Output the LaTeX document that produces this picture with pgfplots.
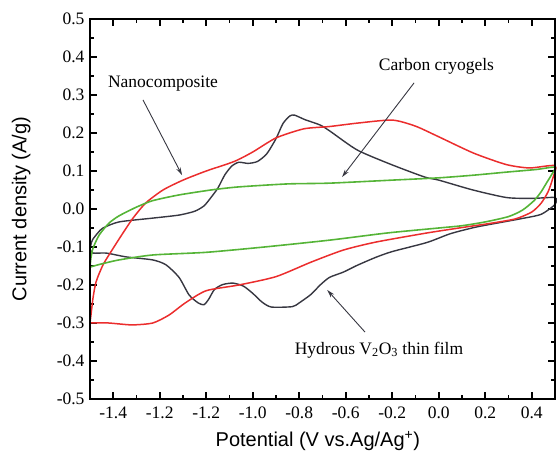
\documentclass[border=0pt]{standalone}
\usepackage{fontspec}
\setmainfont{Liberation Serif}
\newfontfamily\arialfont{Liberation Sans}
\usepackage{pgfplots}
\pgfplotsset{compat=1.18}
\usetikzlibrary{arrows.meta}
\definecolor{cvred}{RGB}{235,45,45}
\definecolor{cvgreen}{RGB}{85,180,55}
\definecolor{cvblack}{RGB}{55,55,65}
\begin{document}
\begin{tikzpicture}
\begin{axis}[
  scale only axis, width=465pt, height=380pt,
  xmin=-1.5, xmax=0.5, ymin=-0.5, ymax=0.5,
  axis line style={line width=2.2pt, black},
  xtick={-1.4,-1.2,-1.0,-0.8,-0.6,-0.4,-0.2,0.0,0.2,0.4},
  xticklabels={-1.4,-1.2,-1.2,-1.0,-0.8,-0.6,-0.2,0.0,0.2,0.4},
  minor x tick num=1,
  ytick={-0.5,-0.4,-0.3,-0.2,-0.1,0,0.1,0.2,0.3,0.4,0.5},
  yticklabels={-0.5,-0.4,-0.3,-0.2,-0.1,0.0,0.1,0.2,0.3,0.4,0.5},
  minor y tick num=1,
  tick align=inside,
  major tick length=7pt, minor tick length=4pt,
  major tick style={line width=1.8pt, black},
  minor tick style={line width=1.8pt, black},
  tick label style={font=\fontsize{17.5}{17.5}\selectfont},
  xticklabel style={yshift=-4pt},
  yticklabel style={xshift=-2pt},
  xlabel={Potential (V vs.Ag/Ag\textsuperscript{+})},
  ylabel={Current density (A/g)},
  label style={font=\arialfont\fontsize{20}{20}\selectfont},
  xlabel style={at={(axis description cs:0.49,-0.11)}, anchor=center},
  ylabel style={at={(axis description cs:-0.148,0.5)}, anchor=center},
  clip=false,
]
% Hydrous V2O3 thin film
\addplot[cvblack, line width=1.4pt, smooth, tension=0.4] coordinates {
(-1.5,-0.105) (-1.49,-0.082) (-1.465,-0.062) (-1.444,-0.05) (-1.375,-0.034) (-1.23,-0.024)
(-1.117,-0.016) (-1.05,-0.006) (-1.01,0.008) (-0.98,0.03) (-0.95,0.055) (-0.92,0.09)
(-0.89,0.113) (-0.86,0.123) (-0.82,0.12) (-0.78,0.125) (-0.74,0.145) (-0.70,0.185)
(-0.67,0.225) (-0.64,0.245) (-0.62,0.247) (-0.575,0.235) (-0.51,0.221) (-0.468,0.205)
(-0.35,0.155) (-0.2,0.116) (-0.06,0.084) (0.0,0.076) (0.147,0.05) (0.293,0.03)
(0.405,0.028) (0.5,0.03)
(0.5,0.012) (0.44,-0.014) (0.35,-0.026) (0.165,-0.047) (0.05,-0.065) (-0.05,-0.088)
(-0.2,-0.112) (-0.27,-0.127) (-0.35,-0.148) (-0.41,-0.166) (-0.47,-0.18) (-0.51,-0.2)
(-0.55,-0.225) (-0.6,-0.247) (-0.63,-0.257) (-0.72,-0.258) (-0.76,-0.245) (-0.80,-0.222)
(-0.84,-0.203) (-0.885,-0.195) (-0.93,-0.199) (-0.965,-0.212) (-0.99,-0.238) (-1.01,-0.252)
(-1.035,-0.247) (-1.074,-0.226) (-1.117,-0.18) (-1.173,-0.147) (-1.23,-0.134) (-1.345,-0.126)
(-1.43,-0.116) (-1.487,-0.116) (-1.5,-0.105)
};
% Nanocomposite
\addplot[cvred, line width=1.5pt, smooth, tension=0.4] coordinates {
(-1.5,-0.30) (-1.496,-0.28) (-1.487,-0.234) (-1.474,-0.192) (-1.444,-0.147) (-1.40,-0.103)
(-1.358,-0.063) (-1.315,-0.024) (-1.26,0.016) (-1.186,0.05) (-1.10,0.076) (-1.0,0.10)
(-0.88,0.125) (-0.80,0.15) (-0.70,0.187) (-0.58,0.211) (-0.47,0.217) (-0.35,0.226)
(-0.2,0.234) (-0.1,0.218) (0.0,0.19) (0.15,0.147) (0.29,0.117) (0.39,0.108) (0.5,0.114)
(0.49,0.08) (0.47,0.045) (0.44,0.015) (0.40,-0.008) (0.33,-0.026) (0.22,-0.038)
(0.12,-0.047) (-0.05,-0.063) (-0.27,-0.087) (-0.41,-0.108) (-0.55,-0.14) (-0.7,-0.178)
(-0.86,-0.2) (-1.0,-0.215) (-1.09,-0.247) (-1.16,-0.279) (-1.23,-0.30) (-1.32,-0.305)
(-1.42,-0.30) (-1.5,-0.30)
};
% Carbon cryogels
\addplot[cvgreen, line width=1.6pt, smooth, tension=0.4] coordinates {
(-1.5,-0.153) (-1.496,-0.129) (-1.487,-0.103) (-1.46,-0.068) (-1.418,-0.037) (-1.375,-0.018)
(-1.30,0.005) (-1.23,0.022) (-1.117,0.037) (-0.98,0.05) (-0.863,0.058) (-0.65,0.066)
(-0.47,0.068) (-0.2,0.076) (0.0,0.082) (0.15,0.089) (0.29,0.097) (0.42,0.104) (0.5,0.11)
(0.485,0.09) (0.465,0.07) (0.44,0.045) (0.41,0.022) (0.36,-0.003) (0.3,-0.02) (0.2,-0.034)
(0.1,-0.044) (0.0,-0.05) (-0.22,-0.063) (-0.47,-0.082) (-0.75,-0.1) (-1.0,-0.114)
(-1.23,-0.121) (-1.375,-0.134) (-1.46,-0.146) (-1.5,-0.153)
};
\draw[line width=2.2pt, black] (rel axis cs:0,0) rectangle (rel axis cs:1,1);
\node[font=\fontsize{17.5}{17.5}\selectfont] at (axis cs:-1.186,0.329) {Nanocomposite};
\node[font=\fontsize{17.5}{17.5}\selectfont] at (axis cs:-0.01,0.376) {Carbon cryogels};
\node[font=\fontsize{17.5}{17.5}\selectfont] at (axis cs:-0.257,-0.371) {Hydrous V\textsubscript{2}O\textsubscript{3} thin film};
\draw[line width=0.9pt, cvblack, -{Stealth[length=8pt,width=4.5pt]}] (axis cs:-1.272,0.287) -- (axis cs:-1.104,0.089);
\draw[line width=0.9pt, cvblack, -{Stealth[length=8pt,width=4.5pt]}] (axis cs:-0.106,0.332) -- (axis cs:-0.416,0.084);
\draw[line width=0.9pt, cvblack, -{Stealth[length=8pt,width=4.5pt]}] (axis cs:-0.317,-0.324) -- (axis cs:-0.48,-0.213);
\end{axis}
\pgfresetboundingbox
\useasboundingbox (-90pt,-51pt) rectangle (467pt,399pt);
\end{tikzpicture}
\end{document}
